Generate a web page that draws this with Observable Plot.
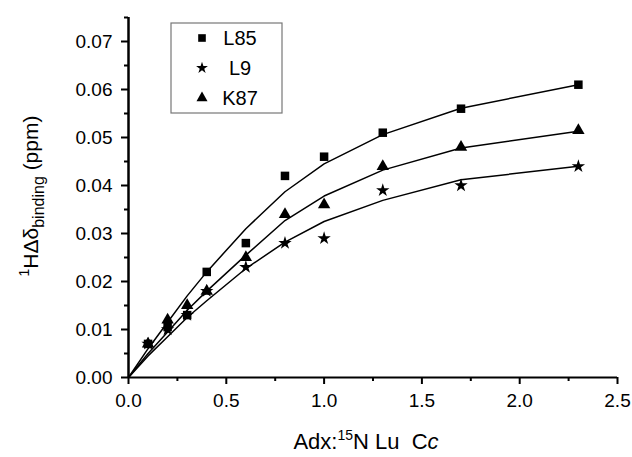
<!DOCTYPE html>
<html>
<head>
<meta charset="utf-8">
<script src="https://cdn.jsdelivr.net/npm/d3@7"></script>
<script src="https://cdn.jsdelivr.net/npm/@observablehq/plot@0.6"></script>
<style>
  body { margin: 0; background: #fff; }
  #chart { width: 632px; height: 457px; }
</style>
</head>
<body>
<div id="chart"></div>
<script>
// Series names and symbols
const seriesNames = ["L85", "L9", "K87"];
const seriesSymbols = ["square", "star", "triangle"];

// Measured points
const xPts = [0.1, 0.2, 0.3, 0.4, 0.6, 0.8, 1.0, 1.3, 1.7, 2.3];
const yL85 = [0.007, 0.0105, 0.013, 0.022, 0.028, 0.042, 0.046, 0.051, 0.056, 0.061];
const yL9  = [0.007, 0.010, 0.013, 0.018, 0.023, 0.028, 0.029, 0.039, 0.040, 0.044];
const yK87 = [0.007, 0.012, 0.015, 0.018, 0.025, 0.034, 0.036, 0.044, 0.048, 0.0515];

// Fitted curves
const xFit = [0, 0.1, 0.2, 0.3, 0.4, 0.6, 0.8, 1.0, 1.3, 1.7, 2.3];
const fitL85 = [0, 0.006, 0.0115, 0.017, 0.022, 0.031, 0.0387, 0.0445, 0.0506, 0.0561, 0.061];
const fitL9  = [0, 0.0045, 0.0085, 0.0125, 0.016, 0.0227, 0.0282, 0.0325, 0.0369, 0.0412, 0.044];
const fitK87 = [0, 0.005, 0.0095, 0.014, 0.018, 0.0255, 0.0327, 0.0378, 0.0432, 0.0478, 0.0513];

// Tick values
const xTicks = [0, 0.5, 1.0, 1.5, 2.0, 2.5];
const xMinor = [0.25, 0.75, 1.25, 1.75, 2.25];
const yTicks = [0, 0.01, 0.02, 0.03, 0.04, 0.05, 0.06, 0.07];
const yMinor = [0.005, 0.015, 0.025, 0.035, 0.045, 0.055, 0.065, 0.075];

const ptsBy = {L85: yL85, L9: yL9, K87: yK87};
const fitBy = {L85: fitL85, L9: fitL9, K87: fitK87};
const points = seriesNames.flatMap(s => xPts.map((x, i) => ({series: s, x, y: ptsBy[s][i]})));
const fits = seriesNames.flatMap(s => xFit.map((x, i) => ({series: s, x, y: fitBy[s][i]})));

const rBy = {L85: 4.8, L9: 4.2, K87: 4.6};

const font = "'Liberation Sans', Arial, sans-serif";

const plot = Plot.plot({
  width: 632,
  height: 457,
  marginLeft: 128,
  marginRight: 15,
  marginTop: 17,
  marginBottom: 80,
  style: {fontFamily: font, fontSize: "19px", color: "black", background: "white"},
  x: {domain: [0, 2.5]},
  y: {domain: [0, 0.075]},
  symbol: {domain: seriesNames, range: seriesSymbols},
  marks: [
    Plot.axisX({ticks: xTicks, tickSize: 7, tickPadding: 9, strokeWidth: 2, tickFormat: d3.format(".1f"), label: null, fontSize: 19}),
    Plot.axisX({ticks: xMinor, tickSize: 4, strokeWidth: 2, text: null, label: null}),
    Plot.axisY({ticks: yTicks, tickSize: 7, tickPadding: 9, strokeWidth: 2, tickFormat: d3.format(".2f"), label: null, fontSize: 19}),
    Plot.axisY({ticks: yMinor, tickSize: 4, strokeWidth: 2, text: null, label: null}),
    Plot.ruleY([0], {stroke: "black", strokeWidth: 2}),
    Plot.ruleX([0], {y1: 0, y2: 0.075, stroke: "black", strokeWidth: 2.5}),
    Plot.line(fits, {x: "x", y: "y", z: "series", stroke: "black", strokeWidth: 1.5}),
    ...seriesNames.map(s => Plot.dot(points.filter(d => d.series === s), {
      x: "x", y: "y", symbol: "series", fill: "black", stroke: "none", r: rBy[s]
    }))
  ]
});

document.getElementById("chart").appendChild(plot);

// Axis titles and legend, drawn as real SVG text
const svg = d3.select(plot);

// x label
const xl = svg.append("text")
  .attr("x", 366).attr("y", 449)
  .attr("text-anchor", "middle")
  .style("font-family", font).style("font-size", "22px").attr("fill", "black");
xl.append("tspan").text("Adx:");
xl.append("tspan").attr("dy", -9).style("font-size", "14px").text("15");
xl.append("tspan").attr("dy", 9).text("N Lu\u00a0\u00a0C");
xl.append("tspan").style("font-style", "italic").text("c");

// y label
const yl = svg.append("text")
  .attr("transform", "translate(38,196) rotate(-90)")
  .attr("text-anchor", "middle")
  .style("font-family", font).style("font-size", "21px").attr("fill", "black");
yl.append("tspan").attr("dy", -9).style("font-size", "14px").text("1");
yl.append("tspan").attr("dy", 9).text("H\u0394\u03b4");
yl.append("tspan").attr("dy", 6).style("font-size", "16px").text("binding");
yl.append("tspan").attr("dy", -6).text("\u00a0(ppm)");

// legend
const lg = svg.append("g");
lg.append("rect").attr("x", 171).attr("y", 23).attr("width", 111).attr("height", 90)
  .attr("fill", "white").attr("stroke", "#777").attr("stroke-width", 1.2);
const symMap = {square: d3.symbolSquare, star: d3.symbolStar, triangle: d3.symbolTriangle};
const legR = {L85: 4.3, L9: 3.7, K87: 4.1};
seriesNames.forEach((s, i) => {
  const cy = 38 + i * 30;
  lg.append("path")
    .attr("transform", `translate(202,${cy})`)
    .attr("d", d3.symbol(symMap[seriesSymbols[i]], Math.PI * legR[s] * legR[s])())
    .attr("fill", "black");
  lg.append("text").attr("x", 240).attr("y", cy + 7)
    .style("font-family", font).style("font-size", "20px").attr("fill", "black")
    .text(s);
});
</script>
</body>
</html>
